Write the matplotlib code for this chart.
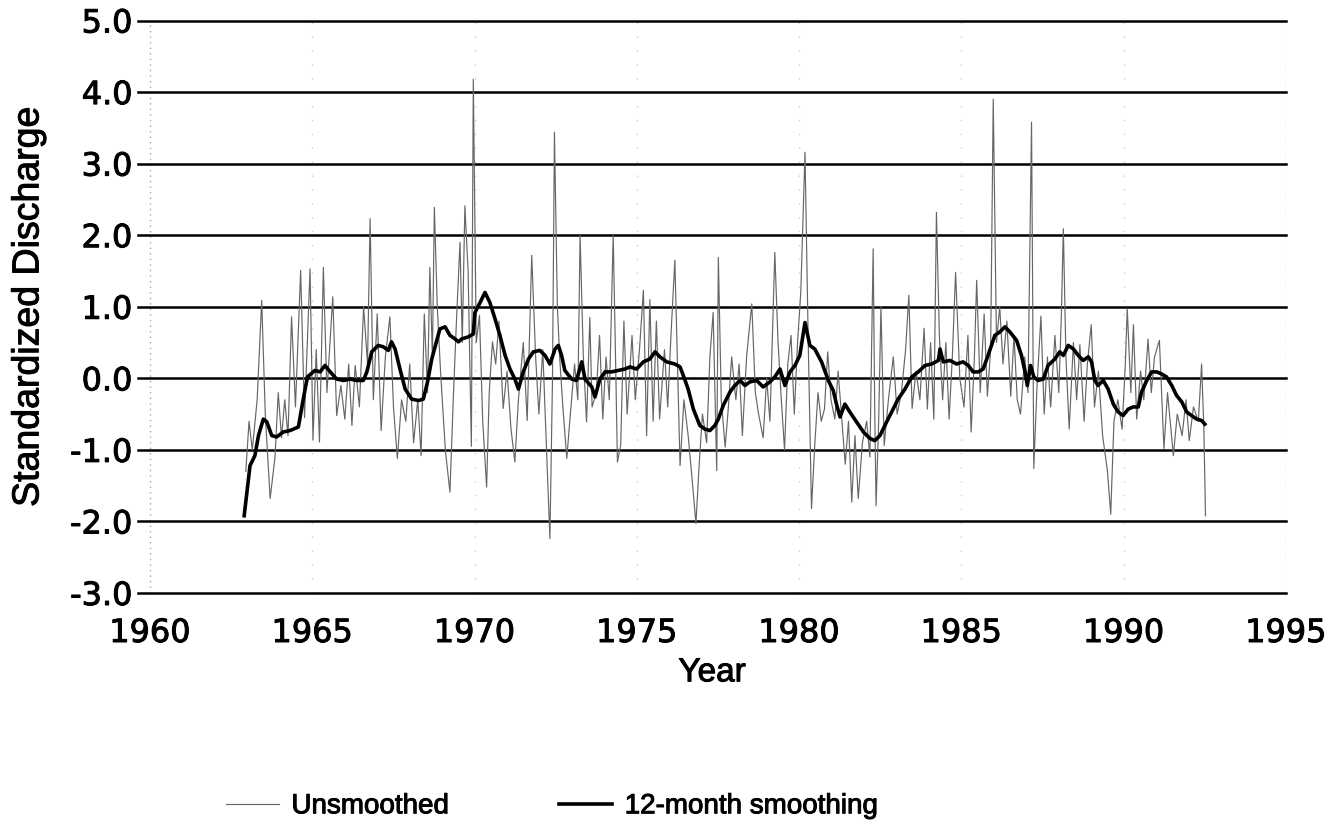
import matplotlib
matplotlib.use("Agg")
import matplotlib.pyplot as plt
import matplotlib.patheffects as pe
import numpy as np

# Standardized discharge
raw_years = [
    1962.95, 1963.05, 1963.15, 1963.30, 1963.44, 1963.55, 1963.70, 1963.85, 1963.95, 1964.05,
    1964.15, 1964.25, 1964.36, 1964.48, 1964.64, 1964.76, 1964.93, 1965.02, 1965.12, 1965.22,
    1965.34, 1965.45, 1965.63, 1965.75, 1965.88, 1966.00, 1966.12, 1966.22, 1966.32, 1966.45,
    1966.58, 1966.70, 1966.78, 1966.88, 1967.00, 1967.12, 1967.25, 1967.39, 1967.50, 1967.62,
    1967.75, 1967.88, 1968.00, 1968.12, 1968.25, 1968.35, 1968.45, 1968.55, 1968.62, 1968.70,
    1968.76, 1968.85, 1968.95, 1969.10, 1969.24, 1969.35, 1969.45, 1969.55, 1969.62, 1969.70,
    1969.80, 1969.90, 1969.96, 1970.05, 1970.15, 1970.25, 1970.37, 1970.45, 1970.55, 1970.65,
    1970.75, 1970.88, 1971.00, 1971.12, 1971.24, 1971.35, 1971.50, 1971.62, 1971.76, 1971.88,
    1971.98, 1972.10, 1972.20, 1972.32, 1972.40, 1972.46, 1972.55, 1972.62, 1972.72, 1972.84,
    1972.95, 1973.08, 1973.18, 1973.25, 1973.35, 1973.45, 1973.55, 1973.62, 1973.75, 1973.85,
    1973.95, 1974.05, 1974.15, 1974.27, 1974.35, 1974.40, 1974.50, 1974.60, 1974.70, 1974.85,
    1974.95, 1975.08, 1975.20, 1975.30, 1975.40, 1975.50, 1975.60, 1975.70, 1975.85, 1975.95,
    1976.05, 1976.17, 1976.25, 1976.33, 1976.45, 1976.58, 1976.70, 1976.82, 1976.92, 1977.02,
    1977.15, 1977.25, 1977.35, 1977.46, 1977.51, 1977.60, 1977.72, 1977.82, 1977.92, 1978.05,
    1978.15, 1978.25, 1978.38, 1978.54, 1978.65, 1978.75, 1978.89, 1979.00, 1979.10, 1979.25,
    1979.35, 1979.45, 1979.55, 1979.65, 1979.75, 1979.85, 1979.95, 1980.05, 1980.18, 1980.28,
    1980.38, 1980.48, 1980.58, 1980.68, 1980.78, 1980.88, 1980.98, 1981.10, 1981.20, 1981.30,
    1981.42, 1981.52, 1981.62, 1981.72, 1981.82, 1981.95, 1982.08, 1982.18, 1982.28, 1982.33,
    1982.37, 1982.45, 1982.52, 1982.62, 1982.75, 1982.90, 1983.02, 1983.15, 1983.28, 1983.38,
    1983.48, 1983.60, 1983.72, 1983.85, 1983.95, 1984.05, 1984.15, 1984.23, 1984.32, 1984.42,
    1984.52, 1984.62, 1984.72, 1984.82, 1984.95, 1985.08, 1985.20, 1985.30, 1985.40, 1985.47,
    1985.58, 1985.70, 1985.80, 1985.90, 1985.98, 1986.08, 1986.18, 1986.28, 1986.40, 1986.52,
    1986.62, 1986.72, 1986.82, 1986.95, 1987.05, 1987.16, 1987.23, 1987.33, 1987.45, 1987.55,
    1987.65, 1987.75, 1987.88, 1988.00, 1988.08, 1988.14, 1988.22, 1988.32, 1988.45, 1988.55,
    1988.65, 1988.78, 1988.88, 1989.00, 1989.10, 1989.22, 1989.35, 1989.50, 1989.60, 1989.70,
    1989.82, 1989.95, 1990.05, 1990.11, 1990.22, 1990.30, 1990.40, 1990.52, 1990.62, 1990.75,
    1990.85, 1990.95, 1991.10, 1991.24, 1991.35, 1991.53, 1991.65, 1991.80, 1991.92, 1992.02,
    1992.15, 1992.30, 1992.40, 1992.47, 1992.52,
]
raw_values = [
    -1.30, -0.60, -1.00, -0.30, 1.09, -0.50, -1.68, -1.10, -0.20, -0.83,
    -0.30, -0.80, 0.86, -0.40, 1.51, -0.55, 1.53, -0.86, 0.40, -0.89,
    1.55, -0.20, 1.14, -0.52, -0.10, -0.57, 0.20, -0.66, 0.18, -0.40,
    1.00, 0.20, 2.23, -0.30, 0.90, -0.73, 0.30, 0.86, -0.40, -1.12,
    -0.30, -0.60, 0.20, -0.90, -0.30, -1.08, 0.90, -0.20, 1.55, 0.30,
    2.39, 1.00, 0.10, -1.01, -1.59, -0.20, 0.90, 1.90, 0.50, 2.41,
    1.50, -0.95, 4.18, 0.50, 0.88, -0.60, -1.52, -0.20, 0.51, 0.20,
    0.80, -0.42, 0.10, -0.70, -1.17, -0.30, 0.50, -0.59, 1.72, 0.30,
    -0.50, 0.40, -0.80, -2.24, 0.00, 3.44, 1.00, 0.30, -0.40, -1.12,
    -0.50, 0.20, -0.30, 2.00, 0.30, -0.61, 0.85, -0.40, -0.20, 0.60,
    -0.57, 0.30, -0.30, 2.00, 0.10, -1.17, -0.94, 0.80, -0.50, 0.60,
    -0.30, 0.40, 1.23, -0.80, 1.10, -0.60, 0.80, -0.57, 0.40, -0.40,
    0.60, 1.65, 0.20, -1.22, -0.30, -0.80, -1.40, -2.03, -1.20, -0.50,
    -0.90, 0.30, 0.92, -1.29, 1.69, -0.30, -0.96, -0.40, 0.30, -0.30,
    0.20, -0.80, 0.30, 1.04, -0.20, -0.50, -0.83, 0.00, -0.60, 1.76,
    0.50, -0.30, -1.00, 0.20, 0.60, -0.50, 0.50, 1.20, 3.16, 0.50,
    -1.82, -0.94, -0.20, -0.60, -0.43, 0.37, -0.30, -0.57, 0.10, -0.50,
    -1.20, -0.60, -1.73, -0.80, -1.68, -0.90, -0.60, -1.10, 1.81, -0.50,
    -1.78, -0.60, 1.00, -0.94, -0.30, 0.30, -0.50, -0.20, 0.40, 1.16,
    -0.42, 0.10, -0.30, 0.70, -0.43, 0.50, -0.57, 2.32, 0.60, -0.30,
    0.50, -0.57, 0.30, 1.48, 0.00, -0.40, 0.60, -0.75, 0.30, 1.37,
    -0.20, 0.90, -0.25, 0.40, 3.90, 0.50, 1.00, 0.20, 0.80, -0.25,
    0.60, -0.30, -0.50, 0.30, -0.20, 3.58, -1.26, -0.10, 0.87, -0.50,
    0.30, -0.40, 0.60, -0.20, 0.90, 2.09, 0.30, -0.71, 0.50, -0.30,
    0.47, -0.60, 0.20, 0.75, -0.40, 0.10, -0.80, -1.30, -1.90, -0.60,
    -0.30, -0.71, 0.20, 0.97, -0.20, 0.75, -0.57, 0.10, -0.30, 0.55,
    -0.20, 0.30, 0.53, -0.98, -0.20, -1.08, -0.50, -0.80, -0.30, -0.87,
    -0.40, -0.60, 0.20, -0.70, -1.92,
]

smooth_years = [
    1962.90, 1963.08, 1963.23, 1963.34, 1963.49, 1963.60, 1963.75, 1963.90, 1964.10, 1964.31,
    1964.57, 1964.72, 1964.85, 1965.08, 1965.24, 1965.39, 1965.55, 1965.75, 1965.96, 1966.16,
    1966.37, 1966.57, 1966.68, 1966.83, 1967.03, 1967.19, 1967.34, 1967.44, 1967.55, 1967.70,
    1967.86, 1968.06, 1968.27, 1968.42, 1968.55, 1968.68, 1968.93, 1969.09, 1969.24, 1969.40,
    1969.50, 1969.60, 1969.81, 1969.96, 1970.01, 1970.17, 1970.32, 1970.47, 1970.63, 1970.78,
    1970.94, 1971.09, 1971.24, 1971.35, 1971.50, 1971.66, 1971.81, 1972.01, 1972.17, 1972.32,
    1972.48, 1972.58, 1972.68, 1972.78, 1972.99, 1973.14, 1973.30, 1973.40, 1973.61, 1973.71,
    1973.86, 1974.02, 1974.22, 1974.43, 1974.63, 1974.79, 1974.99, 1975.20, 1975.40, 1975.56,
    1975.71, 1975.92, 1976.17, 1976.33, 1976.43, 1976.58, 1976.74, 1976.94, 1977.10, 1977.25,
    1977.40, 1977.51, 1977.66, 1977.87, 1978.02, 1978.18, 1978.33, 1978.48, 1978.69, 1978.89,
    1979.10, 1979.25, 1979.41, 1979.56, 1979.72, 1979.87, 1980.02, 1980.18, 1980.33, 1980.48,
    1980.69, 1980.90, 1981.05, 1981.15, 1981.26, 1981.41, 1981.56, 1981.77, 1981.98, 1982.18,
    1982.33, 1982.49, 1982.64, 1982.85, 1983.05, 1983.26, 1983.47, 1983.67, 1983.88, 1984.08,
    1984.29, 1984.34, 1984.44, 1984.65, 1984.85, 1985.05, 1985.21, 1985.36, 1985.52, 1985.67,
    1985.82, 1986.03, 1986.19, 1986.34, 1986.49, 1986.70, 1986.85, 1986.96, 1987.03, 1987.13,
    1987.23, 1987.36, 1987.52, 1987.67, 1987.88, 1988.03, 1988.14, 1988.29, 1988.45, 1988.60,
    1988.75, 1988.91, 1989.01, 1989.11, 1989.21, 1989.37, 1989.52, 1989.68, 1989.83, 1989.98,
    1990.14, 1990.29, 1990.45, 1990.55, 1990.71, 1990.86, 1991.02, 1991.17, 1991.32, 1991.48,
    1991.63, 1991.79, 1991.94, 1992.09, 1992.25, 1992.40, 1992.50,
]
smooth_values = [
    -1.92, -1.22, -1.08, -0.80, -0.57, -0.61, -0.80, -0.82, -0.75, -0.73,
    -0.68, -0.29, 0.02, 0.11, 0.09, 0.18, 0.09, -0.01, -0.03, -0.01,
    -0.03, -0.03, 0.09, 0.37, 0.46, 0.44, 0.39, 0.51, 0.41, 0.13,
    -0.15, -0.29, -0.31, -0.29, -0.05, 0.27, 0.69, 0.72, 0.60, 0.55,
    0.51, 0.55, 0.58, 0.62, 0.92, 1.06, 1.20, 1.06, 0.83, 0.60,
    0.32, 0.13, -0.01, -0.15, 0.09, 0.27, 0.37, 0.39, 0.32, 0.20,
    0.41, 0.46, 0.32, 0.11, -0.01, -0.03, 0.23, -0.01, -0.12, -0.26,
    -0.01, 0.09, 0.09, 0.11, 0.13, 0.16, 0.13, 0.23, 0.27, 0.37,
    0.30, 0.23, 0.20, 0.16, 0.04, -0.15, -0.43, -0.66, -0.71, -0.73,
    -0.66, -0.57, -0.38, -0.19, -0.10, -0.03, -0.10, -0.05, -0.03, -0.12,
    -0.05, 0.02, 0.13, -0.10, 0.09, 0.18, 0.32, 0.78, 0.46, 0.41,
    0.23, -0.03, -0.17, -0.36, -0.54, -0.36, -0.47, -0.61, -0.75, -0.84,
    -0.87, -0.80, -0.66, -0.47, -0.29, -0.15, 0.02, 0.09, 0.18, 0.20,
    0.25, 0.41, 0.23, 0.25, 0.20, 0.23, 0.18, 0.09, 0.09, 0.13,
    0.32, 0.60, 0.65, 0.72, 0.65, 0.53, 0.32, 0.09, -0.10, 0.18,
    0.02, -0.03, -0.01, 0.18, 0.27, 0.37, 0.32, 0.46, 0.41, 0.32,
    0.25, 0.30, 0.23, -0.03, -0.10, -0.03, -0.15, -0.36, -0.47, -0.52,
    -0.43, -0.40, -0.40, -0.19, -0.03, 0.09, 0.09, 0.06, 0.02, -0.10,
    -0.24, -0.33, -0.47, -0.52, -0.57, -0.59, -0.64,
]

y_ticks = [-3.0, -2.0, -1.0, 0.0, 1.0, 2.0, 3.0, 4.0, 5.0]
x_ticks = [1960, 1965, 1970, 1975, 1980, 1985, 1990, 1995]

plt.rcParams["font.family"] = ["Liberation Sans", "DejaVu Sans"]
plt.rcParams["axes.unicode_minus"] = False

# the scanned lettering is a little heavier than a regular face
heavy = [pe.withStroke(linewidth=0.7, foreground="black")]

fig = plt.figure(figsize=(13.39, 8.28), dpi=100)
ax = fig.add_axes([0.1031, 0.2826, 0.8573, 0.6914])

# faint dotted verticals left over from the scanned frame
for x in x_ticks:
    edge = x in (1960, 1995)
    ax.axvline(x, color="#a8a8a8" if edge else "#cccccc",
               linestyle=(0, (1, 3)) if edge else (0, (1, 9)),
               linewidth=1.0, zorder=0)

for y in y_ticks:
    ax.axhline(y, color="black", linewidth=1.8, zorder=1, clip_on=False)

ax.plot(raw_years, raw_values, color="#666666", linewidth=0.85, zorder=2,
        label="Unsmoothed")
ax.plot(smooth_years, smooth_values, color="black", linewidth=2.6, zorder=3,
        label="12-month smoothing")

ax.set_xlim(1959.63, 1995.0)
ax.set_ylim(-3.0, 5.0)
ax.set_yticks(y_ticks)
ax.set_yticklabels([f"{v:.1f}" for v in y_ticks], family="DejaVu Sans")
ax.set_xticks(x_ticks)
ax.set_xticklabels([str(x) for x in x_ticks], family="DejaVu Sans")
ax.tick_params(axis="both", length=0, labelsize=23)
ax.tick_params(axis="y", pad=4)
ax.tick_params(axis="x", pad=18)
for spine in ax.spines.values():
    spine.set_visible(False)

ax.set_xlabel("Year", fontsize=24, labelpad=6)
ax.set_ylabel("Standardized Discharge", fontsize=27, labelpad=17)

leg = fig.legend(loc="center", bbox_to_anchor=(0.412, 0.025), ncol=2, frameon=False,
                 fontsize=20, handlelength=1.9, handletextpad=0.45, columnspacing=4.0)

for t in ax.get_xticklabels() + ax.get_yticklabels() + leg.get_texts():
    t.set_path_effects(heavy)
ax.xaxis.label.set_path_effects(heavy)
ax.yaxis.label.set_path_effects(heavy)

fig.savefig("out.png", dpi=100)
